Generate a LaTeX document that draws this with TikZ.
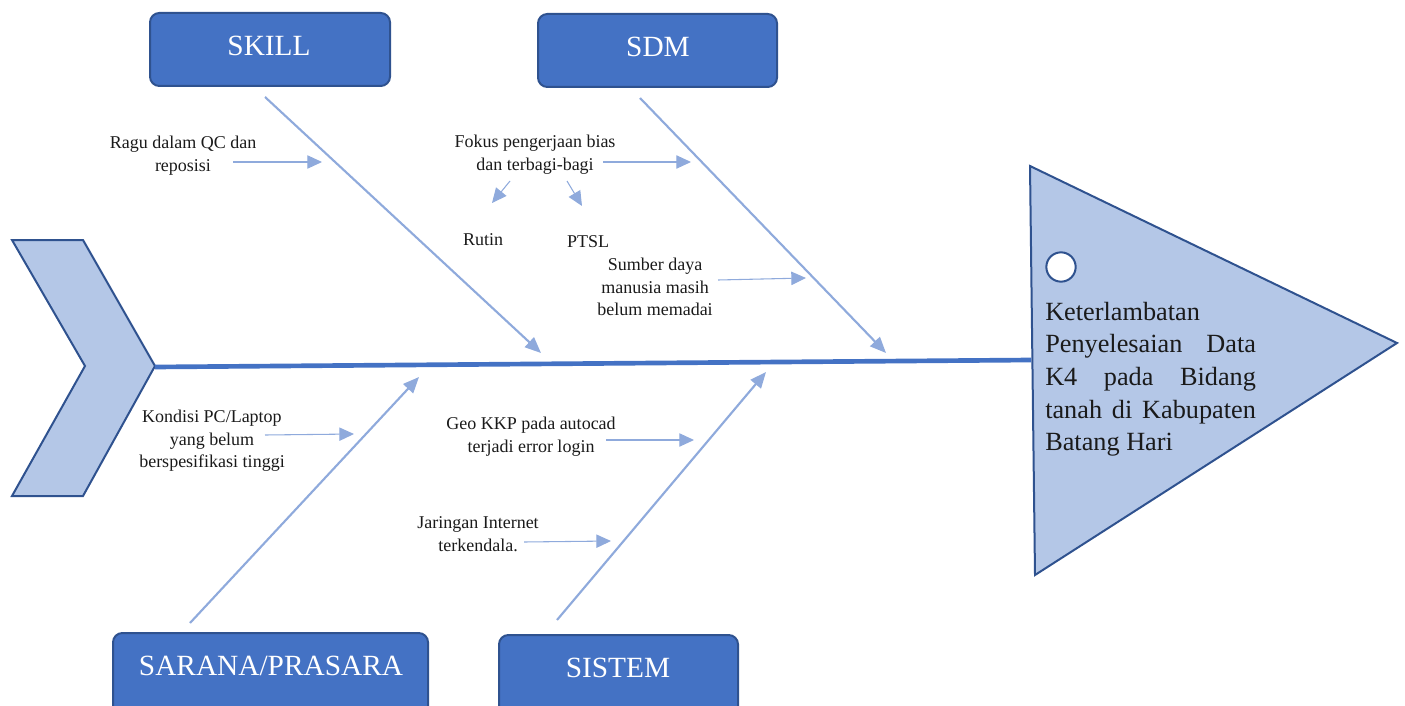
\documentclass[tikz,border=0pt]{standalone}
\usepackage{fontspec}
\setmainfont{Liberation Serif}
\usetikzlibrary{arrows.meta}
\definecolor{boxfill}{HTML}{4472C4}
\definecolor{boxline}{HTML}{2F528F}
\definecolor{lightfill}{HTML}{B4C7E7}
\definecolor{bonecol}{HTML}{8FAADC}
\definecolor{txt}{HTML}{1A1A1A}
\begin{document}
\begin{tikzpicture}[x=0.75pt,y=-0.75pt,
 catbox/.style={draw=boxline, line width=1.5pt, fill=boxfill, rounded corners=7pt, inner sep=0},
 cattext/.style={text=white, font=\fontsize{22}{26}\selectfont, inner sep=0},
 bonearrow/.style={draw=bonecol, line width=1.6pt, -{Triangle[length=12pt,width=10pt]}},
 subarrow/.style={draw=bonecol, line width=0.8pt, -{Triangle[length=11pt,width=10pt]}},
 cause/.style={align=center, font=\fontsize{13.5}{17}\selectfont, text=txt, inner sep=0},
 shapeline/.style={draw=boxline, line width=1.5pt, fill=lightfill, line join=miter}]
\clip (0,0) rectangle (1405,706);

% head chevron and effect triangle
\draw[shapeline] (12,240) -- (83,240) -- (155,366) -- (83,496) -- (12,496) -- (85,366) -- cycle;
\draw[shapeline] (1030,166) -- (1397,343) -- (1035,575) -- cycle;
\coordinate (tail) at (155,367);
\coordinate (effect) at (1031,360);

% spine
\draw[draw=boxfill, line width=3.5pt] (tail) -- (effect);

% circle and effect text
\node[circle, draw=boxline, fill=white, line width=1.5pt, minimum size=22pt, inner sep=0] (dot) at (1061,267) {};
\node[anchor=base west, inner sep=0, text=txt, font=\fontsize{19.7}{24.5}\selectfont] (effecttext) at (1045,320)
 {\parbox[t]{158pt}{Keterlambatan\\
 \hbox to 158pt{Penyelesaian\hfill Data}\\
 \hbox to 158pt{K4\hfill pada\hfill Bidang}\\
 \hbox to 158pt{tanah\hfill di\hfill Kabupaten}\\
 Batang Hari}};

% category boxes
\node[catbox, minimum width=180pt, minimum height=54.75pt] (skillbox) at (270,49.5) {};
\node[cattext] (skill) at (269,46) {SKILL};
\node[catbox, minimum width=179.25pt, minimum height=54.75pt] (sdmbox) at (657.5,50.5) {};
\node[cattext] (sdm) at (658,47) {SDM};
\node[catbox, minimum width=236.25pt, minimum height=66pt] (saranabox) at (270.5,677) {};
\node[cattext] (sarana) at (271,666) {SARANA/PRASARA};
\node[catbox, minimum width=179.25pt, minimum height=66pt] (sistembox) at (618.5,679) {};
\node[cattext] (sistem) at (618,668) {SISTEM};

% bones
\coordinate (s1) at (265,97);   \coordinate (e1) at (541,353);
\coordinate (s2) at (640,98);   \coordinate (e2) at (886,353);
\coordinate (s3) at (190,623);  \coordinate (e3) at (419,377);
\coordinate (s4) at (557,620);  \coordinate (e4) at (766,372);
\draw[bonearrow] (s1) -- (e1);
\draw[bonearrow] (s2) -- (e2);
\draw[bonearrow] (s3) -- (e3);
\draw[bonearrow] (s4) -- (e4);

% causes
\node[cause] (ragu) at (183,156) {Ragu dalam QC dan\\reposisi};
\coordinate (ragua) at (233,162); \coordinate (raguh) at (322,162);
\draw[subarrow] (ragua) -- (raguh);

\node[cause] (fokus) at (535,155) {Fokus pengerjaan bias\\dan terbagi-bagi};
\coordinate (fokusa) at (603,162); \coordinate (fokush) at (691,162);
\draw[subarrow] (fokusa) -- (fokush);
\node[cause] (rutin) at (483,240) {Rutin};
\node[cause] (ptsl) at (588,242) {PTSL};
\coordinate (ra) at (510,181); \coordinate (rh) at (492,203);
\coordinate (pa) at (567,181); \coordinate (ph) at (582,206);
\draw[subarrow] (ra) -- (rh);
\draw[subarrow] (pa) -- (ph);

\node[cause] (sumber) at (655,287) {Sumber daya\\manusia masih\\belum memadai};
\coordinate (sumbera) at (718,280); \coordinate (sumberh) at (806,278);
\draw[subarrow] (sumbera) -- (sumberh);

\node[cause] (kondisi) at (212,441) {Kondisi PC/Laptop\\yang belum\\berspesifikasi tinggi};
\coordinate (kondisia) at (265,435); \coordinate (kondisih) at (354,434);
\draw[subarrow] (kondisia) -- (kondisih);

\node[cause] (geo) at (531,437) {Geo KKP pada autocad\\terjadi error login};
\coordinate (geoa) at (606,440); \coordinate (geoh) at (694,440);
\draw[subarrow] (geoa) -- (geoh);

\node[cause] (jaringan) at (478,534) {Jaringan Internet\\terkendala.};
\coordinate (jara) at (524,542); \coordinate (jarh) at (611,541);
\draw[subarrow] (jara) -- (jarh);
\end{tikzpicture}
\end{document}
